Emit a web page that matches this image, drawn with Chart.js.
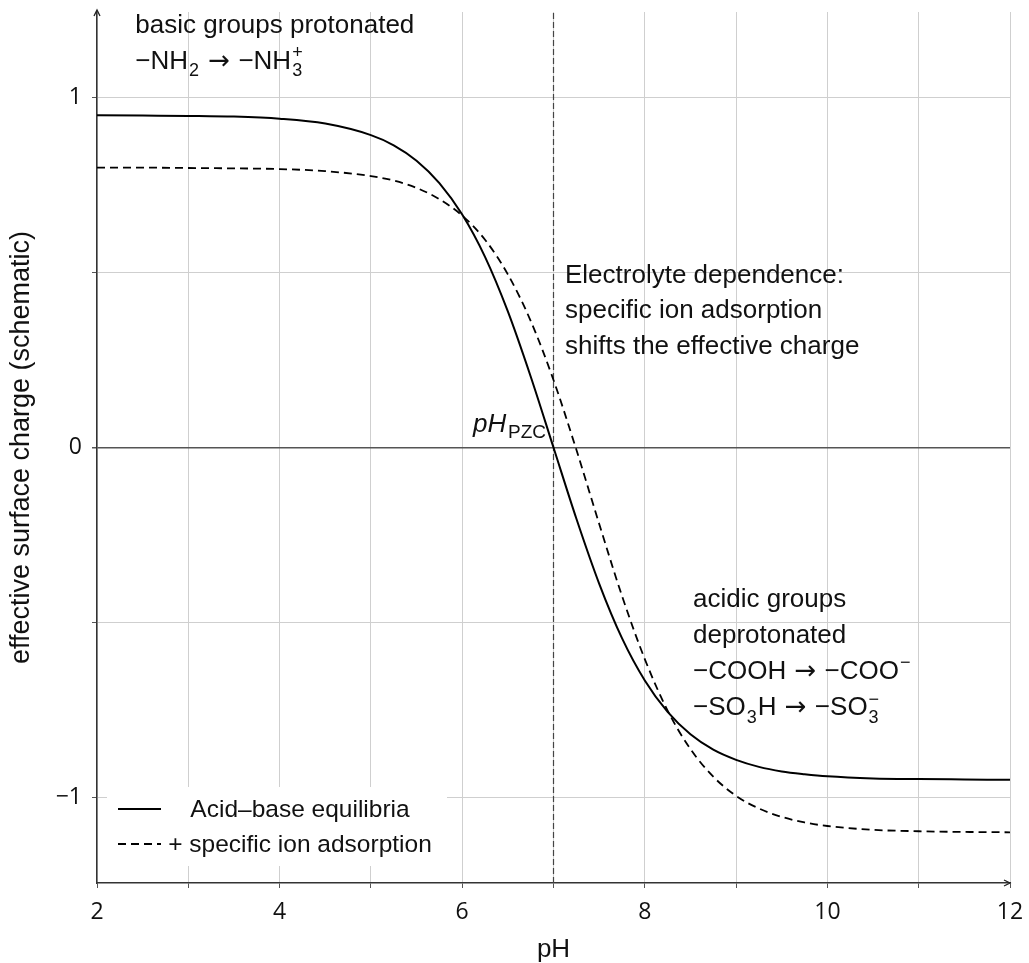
<!DOCTYPE html>
<html>
<head>
<meta charset="utf-8">
<script src="https://cdn.jsdelivr.net/npm/chart.js@4"></script>
<style>
  html, body { margin: 0; padding: 0; background: #fff; }
  canvas { display: block; }
</style>
</head>
<body>
<canvas id="chart" width="1029" height="963"></canvas>
<script>
// ====================
// data
// ====================
const pH = [2, 2.5, 3, 3.5, 4, 4.5, 5, 5.25, 5.5, 5.75, 6, 6.25, 6.5, 6.75, 7, 7.25, 7.5, 7.75, 8, 8.25, 8.5, 8.75, 9, 9.25, 9.5, 9.75, 10, 10.5, 11, 11.5, 12];
const acidBase = [0.950, 0.949, 0.948, 0.946, 0.940, 0.926, 0.893, 0.864, 0.820, 0.756, 0.666, 0.545, 0.389, 0.203, 0,
                  -0.203, -0.389, -0.545, -0.666, -0.756, -0.820, -0.864, -0.893, -0.913, -0.926, -0.934, -0.940, -0.946, -0.948, -0.949, -0.950];
const ionAdsorption = [0.800, 0.800, 0.799, 0.798, 0.796, 0.790, 0.776, 0.763, 0.742, 0.710, 0.663, 0.594, 0.495, 0.362, 0.193,
                       -0.006, -0.218, -0.424, -0.605, -0.752, -0.862, -0.941, -0.996, -1.032, -1.056, -1.072, -1.082, -1.093, -1.097, -1.099, -1.100];
const seriesLabels = ["Acid\u2013base equilibria", "+ specific ion adsorption"];
const pzc = 7;
const xTicks = [2, 3, 4, 5, 6, 7, 8, 9, 10, 11, 12];
const xLabelled = [2, 4, 6, 8, 10, 12];
const yTicks = [-1, -0.5, 0, 0.5, 1];
const yLabelled = {"-1": "\u22121", "0": "0", "1": "1"};
const yMin = -1.245, yMax = 1.245;

const TEXT_FONT = "'Liberation Sans', Arial, sans-serif";
const TICK_FONT = "'Open Sans', 'Noto Sans', sans-serif";
const ARROW_FONT = "'DejaVu Sans', sans-serif";

// ====================
// small helper for sub/superscripts
// ====================
function drawRich(ctx, segs, x, y, size) {
    ctx.textAlign = "left";
    ctx.textBaseline = "alphabetic";
    let cx = x;
    segs.forEach(s => {
        if (s.t !== undefined) {
            ctx.font = (s.italic ? "italic " : "") + size + "px " + (s.family || TEXT_FONT);
            ctx.fillText(s.t, cx, y);
            cx += ctx.measureText(s.t).width;
        } else {
            const small = Math.round(size * 0.68);
            ctx.font = small + "px " + TEXT_FONT;
            let w = 0;
            if (s.sub) { ctx.fillText(s.sub, cx + 1, y + size * 0.3); w = Math.max(w, ctx.measureText(s.sub).width); }
            if (s.sup) { ctx.fillText(s.sup, cx + 1, y - size * 0.42); w = Math.max(w, ctx.measureText(s.sup).width); }
            cx += w + 2;
        }
    });
}
const arrow = {t: " \u2192 ", family: ARROW_FONT};

// ====================
// annotations, legend, arrows
// ====================
const extrasPlugin = {
    id: "extras",
    afterDatasetsDraw(chart) {
        const ctx = chart.ctx;
        const xs = chart.scales.x, ys = chart.scales.y;
        const X = v => xs.getPixelForValue(v);
        const Y = v => ys.getPixelForValue(v);
        const area = chart.chartArea;
        ctx.save();
        ctx.fillStyle = "#111";

        // top-left note
        drawRich(ctx, [{t: "basic groups protonated"}], X(2.42), Y(1.186), 26);
        drawRich(ctx, [{t: "\u2212NH"}, {sub: "2"}, arrow, {t: "\u2212NH"}, {sub: "3", sup: "+"}], X(2.42), Y(1.083), 26);

        // electrolyte note
        drawRich(ctx, [{t: "Electrolyte dependence:"}], X(7.126), Y(0.469), 26);
        drawRich(ctx, [{t: "specific ion adsorption"}], X(7.126), Y(0.369), 26);
        drawRich(ctx, [{t: "shifts the effective charge"}], X(7.126), Y(0.266), 26);

        // pH_PZC
        drawRich(ctx, [{t: "pH", italic: true}], X(6.118), Y(0.043), 26);
        ctx.font = "19px " + TEXT_FONT;
        ctx.fillText("PZC", X(6.118) + 35, Y(0.043) + 6);

        // acidic note
        drawRich(ctx, [{t: "acidic groups"}], X(8.528), Y(-0.457), 26);
        drawRich(ctx, [{t: "deprotonated"}], X(8.528), Y(-0.560), 26);
        drawRich(ctx, [{t: "\u2212COOH"}, arrow, {t: "\u2212COO"}, {sup: "\u2212"}], X(8.528), Y(-0.663), 26);
        drawRich(ctx, [{t: "\u2212SO"}, {sub: "3"}, {t: "H"}, arrow, {t: "\u2212SO"}, {sub: "3", sup: "\u2212"}], X(8.528), Y(-0.766), 26);

        // legend box
        ctx.fillStyle = "#fff";
        ctx.fillRect(area.left + 10, 787, 340, 79);
        const rows = [809, 844];
        chart.data.datasets.slice(0, 2).forEach((ds, i) => {
            ctx.strokeStyle = ds.borderColor;
            ctx.lineWidth = ds.borderWidth;
            ctx.setLineDash(ds.borderDash || []);
            ctx.beginPath();
            ctx.moveTo(118, rows[i]);
            ctx.lineTo(161, rows[i]);
            ctx.stroke();
            ctx.setLineDash([]);
            ctx.fillStyle = "#111";
            ctx.font = "24.5px " + TEXT_FONT;
            ctx.textAlign = "center";
            ctx.textBaseline = "middle";
            ctx.fillText(ds.label, 300, rows[i] + 1);
        });

        // axis arrows
        ctx.strokeStyle = "#222";
        ctx.lineWidth = 1.3;
        ctx.beginPath();
        ctx.moveTo(area.left - 3, area.top + 4);
        ctx.lineTo(area.left, area.top - 2);
        ctx.lineTo(area.left + 3, area.top + 4);
        ctx.moveTo(area.right - 6, area.bottom - 3);
        ctx.lineTo(area.right, area.bottom);
        ctx.lineTo(area.right - 6, area.bottom + 3);
        ctx.stroke();
        ctx.restore();
    }
};

// ====================
// chart
// ====================
const toPoints = vals => pH.map((x, i) => ({x: x, y: vals[i]}));

new Chart(document.getElementById("chart").getContext("2d"), {
    type: "line",
    data: {
        datasets: [
            {
                label: seriesLabels[0],
                data: toPoints(acidBase),
                borderColor: "#000",
                borderWidth: 2,
                pointRadius: 0,
                cubicInterpolationMode: "monotone",
                order: 1
            },
            {
                label: seriesLabels[1],
                data: toPoints(ionAdsorption),
                borderColor: "#000",
                borderWidth: 1.8,
                borderDash: [8, 5],
                pointRadius: 0,
                cubicInterpolationMode: "monotone",
                order: 2
            },
            {
                label: "pzc",
                data: [{x: pzc, y: yMin}, {x: pzc, y: yMax}],
                borderColor: "#444",
                borderWidth: 1.2,
                borderDash: [6, 3],
                pointRadius: 0,
                order: 3
            }
        ]
    },
    options: {
        responsive: false,
        animation: false,
        layout: { padding: { top: 12, right: 19, left: 0, bottom: 0 } },
        plugins: {
            legend: { display: false },
            tooltip: { enabled: false }
        },
        scales: {
            x: {
                type: "linear",
                min: 2,
                max: 12,
                afterBuildTicks: s => { s.ticks = xTicks.map(v => ({value: v})); },
                afterFit: s => { s.height = 80; s.paddingLeft = 0; s.paddingRight = 0; },
                ticks: {
                    callback: v => xLabelled.includes(v) ? String(v) : "",
                    font: { family: TICK_FONT, size: 23 },
                    color: "#111",
                    padding: 11,
                    maxRotation: 0,
                    autoSkip: false
                },
                grid: { color: "#cfcfcf", lineWidth: 1, tickLength: 5, tickColor: "#555" },
                border: { color: "#333", width: 1.5 },
                title: {
                    display: true,
                    text: "pH",
                    font: { family: TEXT_FONT, size: 26, lineHeight: 1.05 },
                    color: "#111",
                    padding: { top: 0, bottom: 0 }
                }
            },
            y: {
                type: "linear",
                min: yMin,
                max: yMax,
                afterBuildTicks: s => { s.ticks = yTicks.map(v => ({value: v})); },
                afterFit: s => { s.width = 97; s.paddingTop = 0; s.paddingBottom = 0; },
                ticks: {
                    callback: v => yLabelled[String(v)] || "",
                    font: { family: TICK_FONT, size: 23 },
                    color: "#111",
                    padding: 10,
                    autoSkip: false
                },
                grid: {
                    color: c => c.tick && c.tick.value === 0 ? "#555" : "#cfcfcf",
                    lineWidth: c => c.tick && c.tick.value === 0 ? 1.5 : 1,
                    tickLength: 5,
                    tickColor: "#555"
                },
                border: { color: "#333", width: 1.5 },
                title: {
                    display: true,
                    text: "effective surface charge (schematic)",
                    font: { family: TEXT_FONT, size: 27 },
                    color: "#111",
                    padding: { top: 5, bottom: 0 }
                }
            }
        }
    },
    plugins: [extrasPlugin]
});
</script>
</body>
</html>
